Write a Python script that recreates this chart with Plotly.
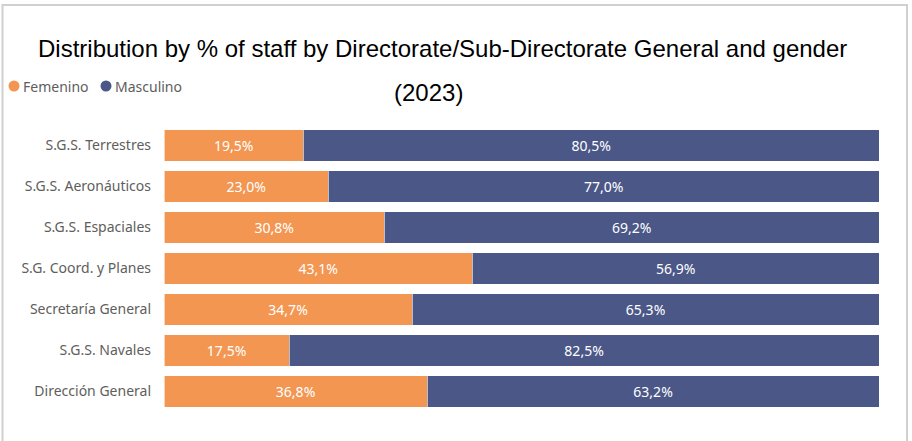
import plotly.graph_objects as go

# Directorates, top to bottom as shown
categories = [
    "S.G.S. Terrestres",
    "S.G.S. Aeronáuticos",
    "S.G.S. Espaciales",
    "S.G. Coord. y Planes",
    "Secretaría General",
    "S.G.S. Navales",
    "Dirección General",
]
femenino = [19.5, 23.0, 30.8, 43.1, 34.7, 17.5, 36.8]
masculino = [80.5, 77.0, 69.2, 56.9, 65.3, 82.5, 63.2]
series_names = ["Femenino", "Masculino"]

ORANGE = "#F39652"
BLUE = "#4B5787"
LABEL_FONT = "Noto Sans"
GREY = "#605E5C"


def fmt(v):
    return f"{v:.1f}%".replace(".", ",")


W, H = 912, 441
L, R, T, B = 164, W - 879, 125, H - 412

fig = go.Figure()
for name, vals, col in zip(series_names, [femenino, masculino], [ORANGE, BLUE]):
    fig.add_trace(go.Bar(
        y=categories, x=vals, name=name, orientation="h",
        marker=dict(color=col, line=dict(color="rgba(255,255,255,0.6)", width=1)),
        text=[fmt(v) for v in vals], textposition="inside",
        insidetextanchor="middle", textangle=0,
        textfont=dict(family=LABEL_FONT, size=14, color="white"),
        showlegend=False, hoverinfo="skip",
    ))


def px_x(p):
    return (p - L) / (W - L - R)


def px_y(p):
    return 1 - (p - T) / (H - T - B)


# legend: coloured dot followed by its series name
legend_items = [(series_names[0], ORANGE, 14, 22), (series_names[1], BLUE, 106, 114)]
shapes = [dict(
    type="rect", xref="paper", yref="paper",
    x0=px_x(2.5), x1=px_x(907), y0=px_y(448), y1=px_y(5),
    line=dict(color="#D0D0D0", width=2), fillcolor="rgba(0,0,0,0)", layer="below",
)]
annotations = [
    dict(text="Distribution by % of staff by Directorate/Sub-Directorate General and gender",
         xref="paper", yref="paper", x=px_x(442), y=px_y(48), showarrow=False,
         xanchor="center", yanchor="middle",
         font=dict(family="Liberation Sans", size=24, color="black")),
    dict(text="(2023)", xref="paper", yref="paper", x=px_x(428), y=px_y(92),
         showarrow=False, xanchor="center", yanchor="middle",
         font=dict(family="Liberation Sans", size=24, color="black")),
]
for name, col, cx, tx in legend_items:
    shapes.append(dict(
        type="circle", xref="paper", yref="paper",
        xsizemode="pixel", ysizemode="pixel",
        xanchor=px_x(cx), yanchor=px_y(86),
        x0=-5.5, x1=5.5, y0=-5.5, y1=5.5,
        fillcolor=col, line=dict(width=0),
    ))
    annotations.append(dict(
        text=name, xref="paper", yref="paper", x=px_x(tx), y=px_y(86),
        showarrow=False, xanchor="left", yanchor="middle",
        xshift=-1, font=dict(family=LABEL_FONT, size=14, color=GREY),
    ))

fig.update_layout(
    width=W, height=H,
    margin=dict(l=L, r=R, t=T, b=B),
    barmode="stack", bargap=0.22,
    plot_bgcolor="white", paper_bgcolor="white",
    xaxis=dict(range=[0, 100], visible=False, fixedrange=True),
    yaxis=dict(
        autorange="reversed", showgrid=False, zeroline=False,
        ticks="", ticklabelstandoff=12,
        tickfont=dict(family=LABEL_FONT, size=14, color=GREY),
    ),
    shapes=shapes,
    annotations=annotations,
)

fig.write_html("out.html")
